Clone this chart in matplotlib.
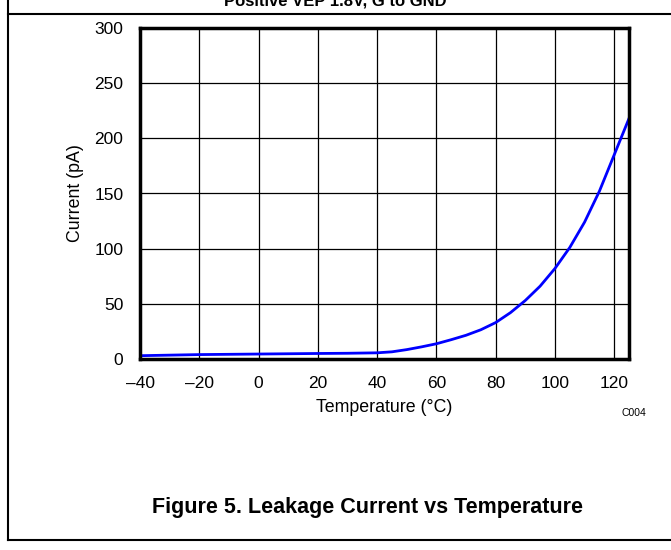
import matplotlib
matplotlib.use("Agg")
import matplotlib.pyplot as plt
from matplotlib.lines import Line2D

temps = [-40, -20, 0, 20, 30, 40, 45, 50, 55, 60, 65, 70, 75, 80, 85, 90, 95,
         100, 105, 110, 115, 120, 125]
leak_pa = [3.0, 4.0, 4.5, 5.0, 5.2, 5.6, 6.5, 8.5, 11.0, 13.8, 17.5, 21.5, 26.5,
           33, 42, 53, 66, 82, 101, 124, 152, 185, 218]

x_ticks = [-40, -20, 0, 20, 40, 60, 80, 100, 120]
x_tick_labels = ["\u201340", "\u201320", "0", "20", "40", "60", "80", "100", "120"]
y_ticks = [0, 50, 100, 150, 200, 250, 300]

plt.rcParams.update({
    "font.family": "sans-serif",
    "font.sans-serif": ["Liberation Sans", "DejaVu Sans"],
    "font.size": 12.5,
})

W, H = 671, 550
fig = plt.figure(figsize=(W / 100, H / 100), dpi=100)
ax = fig.add_axes([140 / W, 1 - 359 / H, (629 - 140) / W, (359 - 28) / H])

ax.plot(temps, leak_pa, color="#0000ff", linewidth=2.0, zorder=3)

ax.set_xlim(-40, 125)
ax.set_ylim(0, 300)
ax.set_xticks(x_ticks)
ax.set_xticklabels(x_tick_labels)
ax.set_yticks(y_ticks)
ax.tick_params(length=0, pad=12, labelsize=12.5)
ax.grid(True, color="black", linewidth=0.9, zorder=1)
for sp in ax.spines.values():
    sp.set_linewidth(2.5)
    sp.set_zorder(4)

ax.set_xlabel("Temperature (\u00b0C)", fontsize=12.8, labelpad=6)
ax.set_ylabel("Current (pA)", fontsize=12.8, labelpad=7)

fig.text(634 / W, 1 - 413 / H, "C004", fontsize=7.5, ha="center", va="center")

# title cut off at the top of the page
fig.text(335 / W, 1 - 5 / H, "Positive VEP 1.8V, G to GND", fontsize=12,
         fontweight="bold", ha="center", va="baseline")
fig.text(367 / W, 1 - 508 / H, "Figure 5. Leakage Current vs Temperature",
         fontsize=15.5, fontweight="bold", ha="center", va="center")

# page frame
for xs, ys in [((8, 8), (0, 540)), ((8, W), (14, 14)), ((8, W), (540, 540))]:
    fig.add_artist(Line2D([x / W for x in xs], [1 - y / H for y in ys],
                          color="black", linewidth=1.5))

fig.savefig("out.png", dpi=100)
